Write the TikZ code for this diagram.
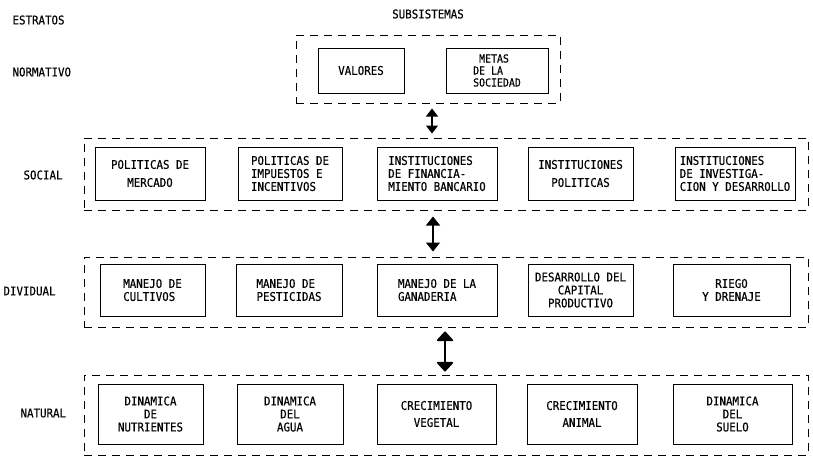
\documentclass[tikz,border=0pt]{standalone}
\usepackage{fontspec}
\setmainfont{DejaVu Sans Mono}[FakeStretch=0.9,FakeBold=0.4]
\usetikzlibrary{arrows.meta,calc}

\begin{document}
\begin{tikzpicture}[x=1pt,y=-1pt,
  font=\fontsize{12}{13}\selectfont,
  sub/.style={draw, line width=1pt, inner sep=2pt, minimum height=53pt},
  grp/.style={draw, dash pattern=on 8pt off 6pt, line width=1pt, minimum width=724pt},
  strat/.style={anchor=west},
  link/.style={line width=1.6pt, {Triangle[length=8pt,width=12pt]}-{Triangle[length=8pt,width=12pt]}}]
  \useasboundingbox (0,0) rectangle (813,461);

  % titulos
  \node[strat] (estratos) at (9,20) {ESTRATOS};
  \node (subsis) at (428,14) {SUBSISTEMAS};

  % estratos
  \node[strat] (lnorm) at (9,72) {NORMATIVO};
  \node[strat] (lsoc) at (20,175) {SOCIAL};
  \node[strat] (lind) at (0,291) {DIVIDUAL};
  \node[strat] (lnat) at (17,413) {NATURAL};

  % normativo
  \node[grp, minimum width=264pt, minimum height=68pt] (gnorm) at (428,69) {};
  \node[sub, minimum width=86pt, minimum height=45pt] (valores) at (361,70.5) {VALORES};
  \node[sub, minimum width=102pt, minimum height=45pt, align=left,
        font=\fontsize{11}{12}\selectfont] (metas) at (497,70.5) {\ METAS\\DE LA\\SOCIEDAD};

  % social
  \node[grp, minimum height=72pt] (gsoc) at (446,174) {};
  \node[sub, minimum width=110pt, align=center] (mercado) at (150,173.5) {POLITICAS DE\\[5pt]MERCADO};
  \node[sub, minimum width=104pt, align=left] (impuestos) at (290,173.5) {POLITICAS DE\\IMPUESTOS E\\INCENTIVOS};
  \node[sub, minimum width=120pt, align=left] (financ) at (437,173.5) {INSTITUCIONES\\DE FINANCIA-\\MIENTO BANCARIO};
  \node[sub, minimum width=105pt, align=center] (instpol) at (580.5,173.5) {INSTITUCIONES\\[5pt]POLITICAS};
  \node[sub, minimum width=120pt, align=left] (investig) at (735,173.5) {INSTITUCIONES\\DE INVESTIGA-\\CION Y DESARROLLO};

  % individual
  \node[grp, minimum height=70pt] (gind) at (446,292) {};
  \node[sub, minimum width=105pt, minimum height=52pt, align=left] (cultivos) at (152.5,290) {MANEJO DE\\CULTIVOS};
  \node[sub, minimum width=106pt, minimum height=52pt, align=left] (pestic) at (289,290) {MANEJO  DE\\PESTICIDAS};
  \node[sub, minimum width=120pt, minimum height=52pt, align=left] (ganad) at (437,290) {MANEJO DE LA\\GANADERIA};
  \node[sub, minimum width=105pt, minimum height=52pt, align=center] (capital) at (580.5,290) {DESARROLLO DEL\\CAPITAL\\PRODUCTIVO};
  \node[sub, minimum width=117pt, minimum height=52pt, align=center] (riego) at (731.5,290) {RIEGO\\Y DRENAJE};

  % natural
  \node[grp, minimum height=80pt] (gnat) at (446,415) {};
  \node[sub, minimum width=105pt, minimum height=60pt, align=center] (nutri) at (150.5,414) {DINAMICA\\DE\\NUTRIENTES};
  \node[sub, minimum width=106pt, minimum height=60pt, align=center] (agua) at (290,414) {DINAMICA\\DEL\\AGUA};
  \node[sub, minimum width=119pt, minimum height=60pt, align=center] (vegetal) at (436.5,414) {CRECIMIENTO\\[4pt]VEGETAL};
  \node[sub, minimum width=110pt, minimum height=60pt, align=center] (animal) at (582,414) {CRECIMIENTO\\[4pt]ANIMAL};
  \node[sub, minimum width=119pt, minimum height=60pt, align=center] (suelo) at (732.5,414) {DINAMICA\\DEL\\SUELO};

  % flechas entre estratos
  \coordinate (a1) at (432,0);
  \coordinate (a2) at (433,0);
  \coordinate (a3) at (445,0);
  \draw[link] ($(a1 |- gnorm.south)+(0,5)$) -- ($(a1 |- gsoc.north)+(0,-4)$);
  \draw[link, {Triangle[length=9pt,width=14pt]}-{Triangle[length=9pt,width=14pt]}]
    ($(a2 |- gsoc.south)+(0,6)$) -- ($(a2 |- gind.north)+(0,-5)$);
  \draw[line width=1.6pt, {Triangle[round,length=10pt,width=18pt]}-{Triangle[round,length=10pt,width=18pt]}]
    ($(a3 |- gind.south)+(0,4)$) -- ($(a3 |- gnat.north)+(0,-3)$);
\end{tikzpicture}
\end{document}
